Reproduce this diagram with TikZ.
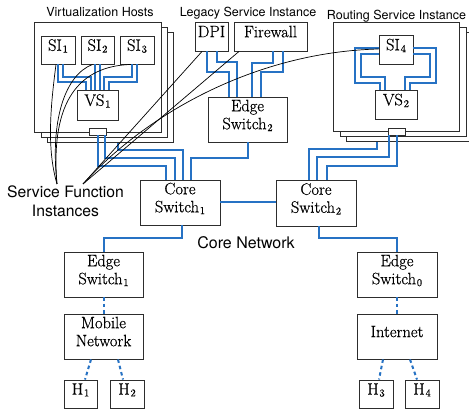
\documentclass[tikz,border=0pt]{standalone}
\usepackage{fontspec}
\setmainfont{Latin Modern Roman}
\newfontfamily\boxfont{Latin Modern Roman}[FakeBold=0.6]
\newfontfamily\lblfont{TeX Gyre Heros}
\definecolor{linkblue}{RGB}{38,114,196}
\definecolor{edgegray}{RGB}{45,45,45}
\newcommand{\subdig}[1]{\kern0.8pt\raisebox{-1.8pt}{\fontsize{10.5}{10.5}\selectfont #1}}
\newcommand{\dropstrut}{\rule[-10pt]{0pt}{0pt}}
\begin{document}
\begin{tikzpicture}[x=1pt,y=-1pt,
  box/.style={draw=edgegray, line width=0.9pt, fill=white, inner sep=0pt, align=center,
     font=\boxfont\fontsize{16.5}{18}\selectfont, execute at end node=\dropstrut},
  host/.style={draw=edgegray, line width=1pt, fill=white, inner sep=0pt},
  nic/.style={draw=edgegray, line width=0.8pt, fill=white, inner sep=0pt, minimum width=17pt, minimum height=7pt},
  link/.style={draw=linkblue, line width=2pt},
  wlink/.style={draw=linkblue, line width=2pt, dash pattern=on 3.5pt off 3pt},
  note/.style={draw=black, line width=0.7pt},
  title/.style={font=\lblfont\fontsize{12.5}{14}\selectfont, inner sep=0pt, anchor=base},
]
\clip (0,0) rectangle (469,411);
\fill[white] (0,0) rectangle (469,411);

% host boxes
\node[host, minimum width=126pt, minimum height=110pt] (hostA3) at (110,88) {};
\node[host, minimum width=126pt, minimum height=110pt] (hostA2) at (104,83) {};
\node[host, minimum width=127pt, minimum height=110pt] (hostA1) at (97.5,78) {};
\node[host, minimum width=127pt, minimum height=109pt] (hostB3) at (409.5,87.5) {};
\node[host, minimum width=126pt, minimum height=109pt] (hostB2) at (403,82.5) {};
\node[host, minimum width=126pt, minimum height=109pt] (hostB1) at (396,77.5) {};

% boxes
\node[box, minimum width=34pt, minimum height=28pt] (si1) at (58,50) {SI\subdig{1}};
\node[box, minimum width=33pt, minimum height=28pt] (si2) at (97.5,50) {SI\subdig{2}};
\node[box, minimum width=34pt, minimum height=28pt] (si3) at (137,50) {SI\subdig{3}};
\node[box, minimum width=41pt, minimum height=30pt] (vs1) at (97.5,105) {VS\subdig{1}};
\node[nic] (nic1) at (97.5,131.5) {};

\node[box, minimum width=33pt, minimum height=29pt] (dpi) at (211.5,36.5) {DPI};
\node[box, minimum width=73pt, minimum height=29pt] (fw) at (270.5,36.5) {Firewall};
\node[box, minimum width=79pt, minimum height=45pt] (es2) at (247.5,119.5) {Edge\\Switch\subdig{2}};

\node[box, minimum width=34pt, minimum height=29pt] (si4) at (396,49.5) {SI\subdig{4}};
\node[box, minimum width=42pt, minimum height=29pt] (vs2) at (396,104.5) {VS\subdig{2}};
\node[nic] (nic2) at (396.5,131.5) {};

\node[box, minimum width=80pt, minimum height=45pt] (cs1) at (180,202.5) {Core\\Switch\subdig{1}};
\node[box, minimum width=80pt, minimum height=46pt] (cs2) at (316,203) {Core\\Switch\subdig{2}};

\node[box, minimum width=79pt, minimum height=45pt] (es1) at (103.5,274.5) {Edge\\Switch\subdig{1}};
\node[box, minimum width=79pt, minimum height=45pt] (mn) at (103.5,336.5) {Mobile\\Network};
\node[box, minimum width=33pt, minimum height=28pt] (h1) at (80.5,394) {H\subdig{1}};
\node[box, minimum width=34pt, minimum height=28pt] (h2) at (127,394) {H\subdig{2}};

\node[box, minimum width=80pt, minimum height=45pt] (es0) at (397,274.5) {Edge\\Switch\subdig{0}};
\node[box, minimum width=80pt, minimum height=45pt] (inet) at (397,336.5) {Internet};
\node[box, minimum width=34pt, minimum height=28pt] (h3) at (376,394) {H\subdig{3}};
\node[box, minimum width=34pt, minimum height=28pt] (h4) at (422,394) {H\subdig{4}};

% links inside virtualization host
\draw[link] (si1.south) -- ++(0,18) -| ([xshift=-11.5pt]vs1.north);
\draw[link] ([xshift=5pt]si1.south) -- ++(0,13) -| ([xshift=-6.5pt]vs1.north);
\draw[link] ([xshift=-2.5pt]si2.south) -- ([xshift=-2.5pt]vs1.north);
\draw[link] ([xshift=2.5pt]si2.south) -- ([xshift=2.5pt]vs1.north);
\draw[link] ([xshift=-5pt]si3.south) -- ++(0,13) -| ([xshift=6.5pt]vs1.north);
\draw[link] (si3.south) -- ++(0,18) -| ([xshift=11.5pt]vs1.north);

% legacy service links
\draw[link] ([xshift=-4.5pt]dpi.south) -- ++(0,21) -| ([xshift=-18.5pt]es2.north);
\draw[link] ([xshift=5.5pt]dpi.south) -- ++(0,11) -| ([xshift=-10.5pt]es2.north);
\draw[link] ([xshift=2.5pt]fw.south) -- ++(0,12) -| ([xshift=4.5pt]es2.north);
\draw[link] ([xshift=12.5pt]fw.south) -- ++(0,21) -| ([xshift=13.5pt]es2.north);

% routing service links
\draw[link] ([yshift=1.5pt]si4.west) -- ++(-24,0) -- ++(0,35) -| ([xshift=-16pt]vs2.north);
\draw[link] ([yshift=-4.5pt]si4.west) -- ++(-18,0) -- ++(0,23) -| ([xshift=-11pt]vs2.north);
\draw[link] ([yshift=1.5pt]si4.east) -- ++(23,0) -- ++(0,35) -| ([xshift=14pt]vs2.north);
\draw[link] ([yshift=-4.5pt]si4.east) -- ++(17,0) -- ++(0,23) -| ([xshift=9pt]vs2.north);

% to core switches
\draw[link] ([xshift=0.5pt]nic1.south) -- ++(0,31) -| ([xshift=-14pt]cs1.north);
\draw[link] ([xshift=7.5pt]nic1.south) -- ++(0,23) -| ([xshift=-5pt]cs1.north);
\draw[link] ([xshift=8pt]hostA3.south) -- ++(0,7) -| ([xshift=3pt]cs1.north);
\draw[link] (es2.south) -- ++(0,16) -| ([xshift=11pt]cs1.north);
\draw[link] ([xshift=-7.5pt]nic2.south) -- ++(0,22) -| ([xshift=1pt]cs2.north);
\draw[link] ([xshift=0.5pt]nic2.south) -- ++(0,31) -| ([xshift=11pt]cs2.north);
\draw[link] ([xshift=-32.5pt]hostB3.south) -- ++(0,7) -| ([xshift=-7pt]cs2.north);

\draw[link] (cs1.east) -- (cs1.east -| cs2.west);
\draw[link] ([xshift=2pt]cs1.south) -- ++(0,13) -| (es1.north);
\draw[link] ([xshift=3pt]cs2.south) -- ++(0,12) -| (es0.north);

% wireless / dashed
\draw[wlink] (es1.south) -- (mn.north);
\draw[wlink] ([xshift=-12.5pt]mn.south) -- ([xshift=4.5pt]h1.north);
\draw[wlink] ([xshift=14.5pt]mn.south) -- ([xshift=-4pt]h2.north);
\draw[wlink] (es0.south) -- (inet.north);
\draw[wlink] ([xshift=-14pt]inet.south) -- ([xshift=3pt]h3.north);
\draw[wlink] ([xshift=13pt]inet.south) -- ([xshift=-5pt]h4.north);

% labels
\node[title] (tA) at (100,17) {Virtualization Hosts};
\node[title] (tB) at (248,17) {Legacy Service Instance};
\node[title] (tC) at (396.5,19.5) {Routing Service Instance};
\node[font=\lblfont\fontsize{16}{18}\selectfont, inner sep=0pt, anchor=base] (cn) at (246,249) {Core Network};
\node[font=\lblfont\fontsize{15.7}{19}\selectfont, inner sep=0pt, align=center, anchor=north] (sfi) at (65.5,186) {Service Function\\Instances};

% annotation lines
\coordinate (sfA) at (57,184);
\coordinate (sfB) at (83,184);
\draw[note] ([xshift=-2pt]si1.south) .. controls (50,110) and (47,150) .. (sfA);
\draw[note] ([xshift=-5pt]si2.south) .. controls (65,75) and (50,120) .. (sfA);
\draw[note] ([xshift=-6pt]si3.south) .. controls (80,66) and (50,100) .. (sfA);
\draw[note] ([xshift=-9.5pt]dpi.south) -- (sfB);
\draw[note] ([xshift=-31.5pt]fw.south) -- (sfB);
\draw[note] ([yshift=0.5pt]si4.west) .. controls (260,52) and (150,110) .. (sfB);
\end{tikzpicture}
\end{document}
